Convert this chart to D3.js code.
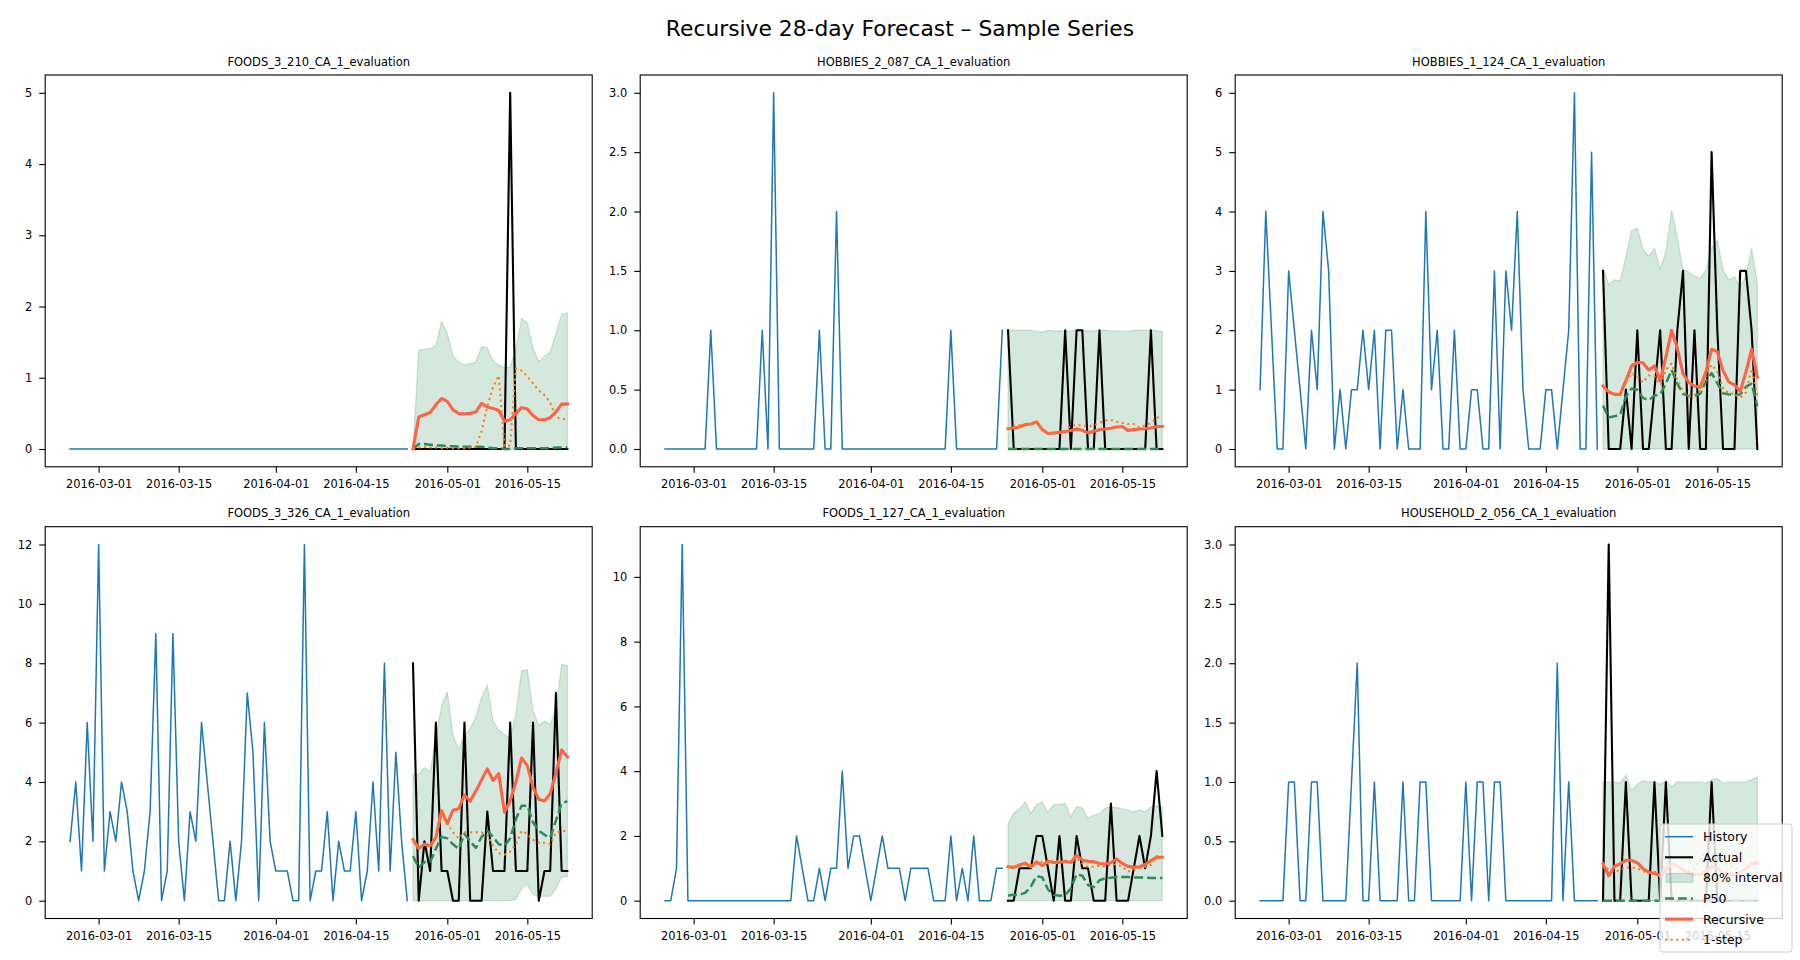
<!DOCTYPE html>
<html>
<head>
<meta charset="utf-8">
<script src="https://cdn.jsdelivr.net/npm/d3@7"></script>
<style>
  html, body { margin: 0; padding: 0; background: #ffffff; }
  svg { display: block; font-family: "DejaVu Sans", sans-serif; }
</style>
</head>
<body>
<div id="chart"></div>
<script>
// ---------------- DATA ----------------
const suptitle = "Recursive 28-day Forecast \u2013 Sample Series";
const historyStart = "2016-02-25";   // 60 daily history points
const forecastStart = "2016-04-25";  // 28 daily forecast points
const xTickLabels = ["2016-03-01", "2016-03-15", "2016-04-01", "2016-04-15", "2016-05-01", "2016-05-15"];
const legendLabels = ["History", "Actual", "80% interval", "P50", "Recursive", "1-step"];
const seriesTitles = ["FOODS_3_210_CA_1_evaluation", "HOBBIES_2_087_CA_1_evaluation", "HOBBIES_1_124_CA_1_evaluation",
                      "FOODS_3_326_CA_1_evaluation", "FOODS_1_127_CA_1_evaluation", "HOUSEHOLD_2_056_CA_1_evaluation"];

// 1) FOODS_3_210
const hist1 = [0,0,0,0,0,0,0,0,0,0, 0,0,0,0,0,0,0,0,0,0, 0,0,0,0,0,0,0,0,0,0, 0,0,0,0,0,0,0,0,0,0, 0,0,0,0,0,0,0,0,0,0, 0,0,0,0,0,0,0,0,0,0];
const act1  = [0,0,0,0,0,0,0,0,0,0,0,0,0,0,0,0,0,5,0,0,0,0,0,0,0,0,0,0];
const lo1   = [0,0,0,0,0,0,0,0,0,0,0,0,0,0,0,0,0,0,0,0,0,0,0,0,0,0,0,0];
const hi1   = [0,1.39,1.40,1.41,1.45,1.79,1.62,1.31,1.22,1.18,1.20,1.22,1.44,1.42,1.23,1.18,1.14,1.15,1.40,1.83,1.77,1.41,1.23,1.30,1.36,1.62,1.89,1.91];
const p50_1 = [0,0.07,0.07,0.06,0.05,0.05,0.04,0.04,0.03,0.03,0.03,0.03,0.03,0.02,0.01,0.01,0,0,0.01,0.01,0.01,0.01,0.01,0.01,0.01,0.02,0.02,0.02];
const rec1  = [0,0.45,0.48,0.51,0.62,0.71,0.67,0.55,0.50,0.49,0.50,0.52,0.64,0.59,0.57,0.54,0.39,0.41,0.50,0.58,0.56,0.47,0.41,0.41,0.44,0.52,0.63,0.63];
const one1  = [0,0.02,0.03,0.02,0.02,0.01,0.02,0.01,0.01,0.01,0.02,0.03,0.25,0.60,0.87,1.03,0.04,0.05,1.13,1.10,1.02,0.92,0.82,0.76,0.65,0.45,0.42,0.43];

// 2) HOBBIES_2_087
const hist2 = [0,0,0,0,0,0,0,0,1,0, 0,0,0,0,0,0,0,1,0,3, 0,0,0,0,0,0,0,1,0,0, 2,0,0,0,0,0,0,0,0,0, 0,0,0,0,0,0,0,0,0,0, 1,0,0,0,0,0,0,0,0,1];
const act2  = [1,0,0,0,0,0,0,0,0,0,1,0,1,1,0,0,1,0,0,0,0,0,0,0,0,1,0,0];
const lo2   = [0,0,0,0,0,0,0,0,0,0,0,0,0,0,0,0,0,0,0,0,0,0,0,0,0,0,0,0];
const hi2   = [1.0,1.0,1.0,1.0,1.0,0.99,0.985,1.0,0.995,0.995,0.995,0.995,1.0,1.0,0.995,0.995,1.0,1.0,0.995,0.995,0.99,0.99,1.0,1.0,1.0,1.0,0.995,0.99];
const p50_2 = [0,0,0,0,0,0,0,0,0,0,0,0,0,0,0,0,0,0,0,0,0,0,0,0,0,0,0,0];
const rec2  = [0.17,0.177,0.185,0.205,0.21,0.228,0.163,0.13,0.135,0.14,0.146,0.155,0.168,0.157,0.135,0.149,0.163,0.168,0.174,0.185,0.19,0.157,0.163,0.168,0.171,0.177,0.19,0.19];
const one2  = [0.17,0.19,0.2,0.21,0.21,0.22,0.17,0.13,0.13,0.14,0.15,0.2,0.2,0.2,0.19,0.2,0.22,0.24,0.245,0.23,0.22,0.21,0.21,0.18,0.2,0.22,0.26,0.28];

// 3) HOBBIES_1_124
const hist3 = [1,4,2,0,0,3,2,1,0,2, 1,4,3,0,1,0,1,1,2,1, 2,0,2,2,0,1,0,0,0,4, 1,2,0,0,2,0,0,1,1,0, 0,3,0,3,2,4,1,0,0,0, 1,1,0,1,2,6,0,0,5,0];
const act3  = [3,0,0,0,1,0,2,0,0,1,2,0,0,2,3,0,2,0,0,5,2,0,0,0,3,3,2,0];
const lo3   = [0,0,0,0,0,0,0,0,0,0,0,0,0,0,0,0,0,0,0,0,0,0,0,0,0,0,0,0];
const hi3   = [3.05,2.77,2.85,2.83,3.25,3.68,3.72,3.36,3.25,3.38,3.03,3.33,4.02,3.55,3.03,2.98,2.91,2.88,3.01,3.39,3.52,3.02,2.85,2.90,2.73,2.91,3.38,2.79];
const p50_3 = [0.73,0.53,0.55,0.58,0.88,1.02,1.00,0.86,0.82,0.90,0.92,1.10,1.33,1.10,0.93,0.89,0.90,0.93,1.14,1.28,1.11,0.94,0.92,0.90,0.92,1.05,1.10,0.72];
const rec3  = [1.06,0.96,0.92,0.92,1.15,1.40,1.46,1.45,1.33,1.40,1.15,1.55,2.00,1.70,1.27,1.12,1.06,1.04,1.30,1.68,1.64,1.32,1.13,1.08,0.97,1.30,1.68,1.21];
const one3  = [1.05,0.97,0.93,0.92,1.12,1.28,1.22,1.12,1.24,1.22,1.08,1.33,1.44,1.16,0.98,0.89,0.91,0.97,1.23,1.42,1.30,1.02,0.94,0.93,0.86,0.95,1.35,0.90];

// 4) FOODS_3_326
const hist4 = [2,4,1,6,2,12,1,3,2,4, 3,1,0,1,3,9,0,1,9,2, 0,3,2,6,4,2,0,0,2,0, 2,7,5,0,6,2,1,1,1,0, 0,12,0,1,1,3,0,2,1,1, 3,0,1,4,1,8,1,5,2,0];
const act4  = [8,0,2,1,6,1,1,0,0,6,0,0,0,3,1,1,1,6,1,1,1,6,0,1,1,7,1,1];
const lo4   = [0,0,0,0,0,0,0,0,0,0,0,0,0,0,0,0,0,0,0.05,0.4,0.55,0.2,0.15,0.15,0.15,0.4,0.8,0.8];
const hi4   = [4.25,4.26,4.49,4.32,5.5,6.55,7.04,5.55,5.1,5.55,5.8,6.2,6.84,7.26,6.05,5.75,5.6,5.45,6.3,7.75,7.77,6.4,5.9,6.05,5.95,6.45,7.96,7.93];
const p50_4 = [1.5,1.12,1.3,1.3,1.75,2.15,2.1,1.9,1.75,2.25,2.0,1.78,2.15,2.36,2.15,1.9,1.85,2.1,2.75,3.2,3.2,2.64,2.36,2.22,2.12,2.7,3.28,3.35];
const rec4  = [2.06,1.76,1.9,1.85,2.13,3.03,2.6,3.05,3.1,3.56,3.35,3.7,4.07,4.44,4.05,4.28,2.98,3.36,4.0,4.81,4.55,3.82,3.42,3.36,3.6,4.3,5.08,4.85];
const one4  = [2.05,1.75,1.9,1.85,2.1,2.9,2.6,2.3,2.1,2.3,2.3,2.3,2.3,2.2,1.85,1.6,1.55,1.65,1.9,2.35,2.25,2.05,1.95,1.95,1.9,2.3,2.35,2.35];

// 5) FOODS_1_127
const hist5 = [0,0,1,11,0,0,0,0,0,0, 0,0,0,0,0,0,0,0,0,0, 0,0,0,2,1,0,0,1,0,1, 1,4,1,2,2,1,0,1,2,1, 1,1,0,1,1,1,1,0,0,0, 2,0,1,0,2,0,0,0,1,1];
const act5  = [0,0,1,1,1,2,2,1,0,2,0,0,2,1,1,0,0,0,3,0,0,0,1,2,1,2,4,2];
const lo5   = [0,0,0,0,0,0,0,0,0,0,0,0,0,0,0,0,0,0,0,0,0,0,0,0,0,0,0,0];
const hi5   = [2.38,2.7,2.83,3.05,2.7,2.97,3.04,2.73,2.97,2.97,3.0,2.59,2.91,2.86,2.53,2.65,2.68,2.86,2.89,2.87,2.84,2.79,2.74,2.81,2.74,2.89,2.93,2.89];
const p50_5 = [0.16,0.18,0.19,0.24,0.44,0.76,0.72,0.35,0.18,0.15,0.17,0.38,0.82,0.77,0.48,0.42,0.63,0.69,0.71,0.73,0.73,0.73,0.72,0.72,0.71,0.70,0.70,0.70];
const rec5  = [1.05,1.03,1.1,1.16,1.04,1.2,1.08,1.22,1.18,1.18,1.22,1.18,1.41,1.25,1.22,1.2,1.15,1.14,1.17,1.29,1.15,1.06,1.03,1.05,1.12,1.24,1.34,1.34];
const one5  = [1.05,1.02,1.05,1.12,1.1,1.15,1.2,1.15,1.25,1.2,1.18,1.2,1.3,1.15,1.05,1.05,1.08,1.05,1.12,1.12,1.05,0.9,0.95,1.0,1.05,1.1,1.38,1.35];

// 6) HOUSEHOLD_2_056
const hist6 = [0,0,0,0,0,1,1,0,0,1, 1,0,0,0,0,0,1,2,0,0, 1,0,0,0,0,1,0,0,1,1, 0,0,0,0,0,0,1,0,1,1, 0,1,1,0,0,0,0,0,0,0, 0,0,2,0,1,0,0,0,0,0];
const act6  = [0,3,0,0,1,0,0,0,0,1,0,1,0,0,0,0,0,0,0,1,0,0,0,0,0,0,0,0];
const lo6   = [0,0,0,0,0,0,0,0,0,0,0,0,0,0,0,0,0,0,0,0,0,0,0,0,0,0,0,0];
const hi6   = [1.0,1.0,1.0,0.99,1.06,0.93,0.98,1.01,1.0,1.0,0.98,1.01,0.96,1.0,1.0,1.0,1.0,1.0,0.99,1.02,1.03,0.99,1.0,1.0,1.0,1.0,1.02,1.04];
const p50_6 = [0,0,0,0,0,0,0,0,0,0,0,0,0,0,0,0,0,0,0,0,0,0,0,0,0,0,0,0];
const rec6  = [0.31,0.21,0.29,0.31,0.34,0.34,0.32,0.27,0.24,0.23,0.21,0.26,0.31,0.29,0.26,0.23,0.22,0.22,0.25,0.29,0.27,0.23,0.22,0.22,0.24,0.27,0.31,0.32];
const one6  = [0.31,0.26,0.24,0.26,0.28,0.28,0.27,0.25,0.23,0.24,0.25,0.3,0.32,0.3,0.27,0.25,0.27,0.35,0.42,0.48,0.45,0.35,0.3,0.28,0.25,0.27,0.3,0.32];

const yTicks1 = [0,1,2,3,4,5];
const yTicks2 = [0,0.5,1,1.5,2,2.5,3];
const yTicks3 = [0,1,2,3,4,5,6];
const yTicks4 = [0,2,4,6,8,10,12];
const yTicks5 = [0,2,4,6,8,10];
const yTicks6 = [0,0.5,1,1.5,2,2.5,3];

// ---------------- STYLE / LAYOUT ----------------
const W = 1800, H = 960;
const colLeft = [45.2, 640.2, 1235.2];
const axW = 547;
const rowTop = [75, 526.7];
const axH = 391.8;
const C = {
  hist: "#1f77b4", act: "#000000", band: "#2e8b57", p50: "#2e8b57", rec: "#ff6347", one: "#ff7f0e"
};
const tickFont = 11.4, titleFont = 11.5, legendFont = 12.5;

const panels = [
  {title: seriesTitles[0], hist: hist1, act: act1, lo: lo1, hi: hi1, p50: p50_1, rec: rec1, one: one1, yt: yTicks1, fmt: "d"},
  {title: seriesTitles[1], hist: hist2, act: act2, lo: lo2, hi: hi2, p50: p50_2, rec: rec2, one: one2, yt: yTicks2, fmt: ".1f"},
  {title: seriesTitles[2], hist: hist3, act: act3, lo: lo3, hi: hi3, p50: p50_3, rec: rec3, one: one3, yt: yTicks3, fmt: "d"},
  {title: seriesTitles[3], hist: hist4, act: act4, lo: lo4, hi: hi4, p50: p50_4, rec: rec4, one: one4, yt: yTicks4, fmt: "d"},
  {title: seriesTitles[4], hist: hist5, act: act5, lo: lo5, hi: hi5, p50: p50_5, rec: rec5, one: one5, yt: yTicks5, fmt: "d"},
  {title: seriesTitles[5], hist: hist6, act: act6, lo: lo6, hi: hi6, p50: p50_6, rec: rec6, one: one6, yt: yTicks6, fmt: ".1f"}
];

const parse = d3.utcParse("%Y-%m-%d");
const h0 = parse(historyStart), f0 = parse(forecastStart);
const histDates = d3.range(hist1.length).map(i => d3.utcDay.offset(h0, i));
const fcDates = d3.range(act1.length).map(j => d3.utcDay.offset(f0, j));
const tickDates = xTickLabels.map(parse);
const span = fcDates[fcDates.length - 1] - histDates[0];
const xDomain = [new Date(+histDates[0] - 0.05 * span), new Date(+fcDates[fcDates.length - 1] + 0.05 * span)];

const svg = d3.select("#chart").append("svg").attr("width", W).attr("height", H);
svg.append("rect").attr("width", W).attr("height", H).attr("fill", "#fff");

svg.append("text").attr("x", W / 2).attr("y", 36).attr("text-anchor", "middle")
  .attr("font-size", 21.8).attr("fill", "#000").text(suptitle);

panels.forEach((p, k) => {
  const left = colLeft[k % 3], top = rowTop[Math.floor(k / 3)];
  const g = svg.append("g").attr("transform", `translate(${left},${top})`);
  const x = d3.scaleUtc().domain(xDomain).range([0, axW]);
  const all = [].concat(p.hist, p.act, p.lo, p.hi, p.p50, p.rec, p.one);
  const lo = d3.min(all), hi = d3.max(all), pad = 0.05 * (hi - lo);
  const y = d3.scaleLinear().domain([lo - pad, hi + pad]).range([axH, 0]);

  // band
  const fc = fcDates.map((d, j) => ({d, lo: p.lo[j], hi: p.hi[j]}));
  g.append("path").datum(fc)
    .attr("d", d3.area().x(d => x(d.d)).y0(d => y(d.lo)).y1(d => y(d.hi)))
    .attr("fill", C.band).attr("fill-opacity", 0.2)
    .attr("stroke", C.band).attr("stroke-opacity", 0.2).attr("stroke-width", 1.3);

  const line = d3.line().x(d => x(d[0])).y(d => y(d[1]));
  const drawLine = (dates, vals, color, width, dash) => {
    const path = g.append("path").datum(dates.map((d, i) => [d, vals[i]]))
      .attr("d", line).attr("fill", "none").attr("stroke", color)
      .attr("stroke-width", width).attr("stroke-linejoin", "round");
    if (dash) path.attr("stroke-dasharray", dash).attr("stroke-linecap", "butt");
    else path.attr("stroke-linecap", "square");
  };
  drawLine(histDates, p.hist, C.hist, 1.5);
  drawLine(fcDates, p.act, C.act, 2.1);
  drawLine(fcDates, p.p50, C.p50, 2.5, "9,3.9");
  drawLine(fcDates, p.rec, C.rec, 3.1);
  drawLine(fcDates, p.one, C.one, 2.1, "2.1,3.5");

  // axes
  const xa = g.append("g").attr("transform", `translate(0,${axH})`)
    .call(d3.axisBottom(x).tickValues(tickDates).tickFormat(d3.utcFormat("%Y-%m-%d")).tickSize(6).tickPadding(7));
  const ya = g.append("g")
    .call(d3.axisLeft(y).tickValues(p.yt).tickFormat(d3.format(p.fmt)).tickSize(6).tickPadding(7));
  [xa, ya].forEach(a => {
    a.select(".domain").remove();
    a.selectAll("line").attr("stroke", "#000").attr("stroke-width", 1.1);
    a.selectAll("text").attr("font-size", tickFont).attr("fill", "#000").attr("font-family", "DejaVu Sans, sans-serif");
  });
  g.append("rect").attr("x", 0).attr("y", 0).attr("width", axW).attr("height", axH)
    .attr("fill", "none").attr("stroke", "#000").attr("stroke-width", 1.1);

  g.append("text").attr("x", axW / 2).attr("y", -9.5).attr("text-anchor", "middle")
    .attr("font-size", titleFont).attr("fill", "#000").text(p.title);
});

// ---------------- LEGEND (figure level, lower right) ----------------
const lg = svg.append("g").attr("transform", "translate(1660,824)");
lg.append("rect").attr("width", 132).attr("height", 128).attr("rx", 3)
  .attr("fill", "#fff").attr("fill-opacity", 0.8).attr("stroke", "#cccccc").attr("stroke-width", 1);
const legendStyles = [
  {type: "line", color: C.hist, w: 1.5},
  {type: "line", color: C.act, w: 2.1},
  {type: "patch"},
  {type: "line", color: C.p50, w: 2.5, dash: "9,3.9"},
  {type: "line", color: C.rec, w: 3.1},
  {type: "line", color: C.one, w: 2.1, dash: "2.1,3.5"}
];
legendLabels.forEach((lab, i) => {
  const cy = 12.7 + i * 20.6;
  const s = legendStyles[i];
  if (s.type === "patch") {
    lg.append("rect").attr("x", 6).attr("y", cy - 4.5).attr("width", 27).attr("height", 9)
      .attr("fill", C.band).attr("fill-opacity", 0.2).attr("stroke", C.band).attr("stroke-opacity", 0.2).attr("stroke-width", 1.3);
  } else {
    const l = lg.append("line").attr("x1", 5).attr("x2", 33).attr("y1", cy).attr("y2", cy)
      .attr("stroke", s.color).attr("stroke-width", s.w);
    if (s.dash) l.attr("stroke-dasharray", s.dash);
  }
  lg.append("text").attr("x", 43).attr("y", cy).attr("dy", "0.36em")
    .attr("font-size", legendFont).attr("fill", "#000").text(lab);
});
</script>
</body>
</html>
